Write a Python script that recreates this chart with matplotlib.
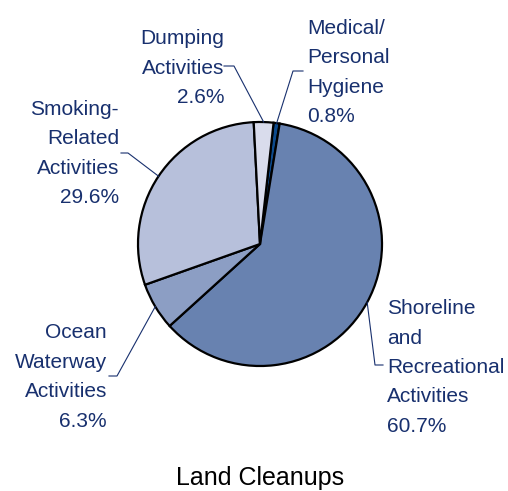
import numpy as np
import matplotlib.pyplot as plt

# data
labels = ['Medical/\nPersonal\nHygiene', 'Shoreline\nand\nRecreational\nActivities',
          'Ocean\nWaterway\nActivities', 'Smoking-\nRelated\nActivities', 'Dumping\nActivities']
shares = [0.8, 60.7, 6.3, 29.6, 2.6]
colors = ['#0d4a8c', '#6882b0', '#8c9ec4', '#b7c0db', '#d9dcec']
title = 'Land Cleanups'

navy = '#18306e'
plt.rcParams['font.family'] = ['Liberation Sans', 'DejaVu Sans']

fig = plt.figure(figsize=(5.08, 4.91), dpi=100)
ax = fig.add_axes([0, 0, 1, 1])
H = 491
cx, cy, r = 260, H - 244, 122

wedges, _ = ax.pie(shares, colors=colors, startangle=83.6, counterclock=False,
                   center=(cx, cy), radius=r, frame=True,
                   wedgeprops=dict(edgecolor='black', linewidth=1.6))

# label layout: text anchor (x, y, ha) and elbow of leader line (x0, x1, y)
layout = [
    (307, 72.5, 'left', 303, 293, 71),
    (387, 367.5, 'left', 383, 375, 365),
    (107, 377, 'right', 109, 117, 376),
    (119, 153.5, 'right', 121, 128, 153),
    (224, 68, 'right', 224, 234, 66),
]

for w, lab, v, (tx, ty, ha, x0, x1, ly) in zip(wedges, labels, shares, layout):
    ang = np.deg2rad((w.theta1 + w.theta2) / 2)
    px, py = cx + r * np.cos(ang), cy + r * np.sin(ang)
    ax.plot([x0, x1, px], [H - ly, H - ly, py], color=navy, lw=0.8)
    ax.text(tx, H - ty, lab + '\n%.1f%%' % v, ha=ha, va='center',
            multialignment=ha, fontsize=15, color=navy, linespacing=1.7)

ax.text(260, H - 478, title, ha='center', va='center', fontsize=18, color='black')

ax.set_xlim(0, 508)
ax.set_ylim(0, H)
ax.set_aspect('equal')
ax.axis('off')
fig.savefig('out.png', dpi=100)
